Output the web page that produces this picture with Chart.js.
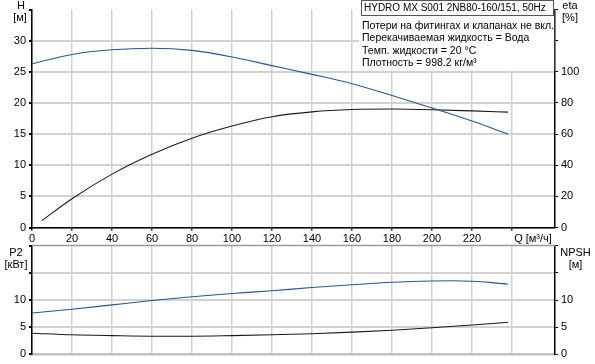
<!DOCTYPE html>
<html>
<head>
<meta charset="utf-8">
<script src="https://cdn.jsdelivr.net/npm/chart.js@4.4.1/dist/chart.umd.min.js"></script>
<style>
  body { margin: 0; background: #fff; }
  #wrap { position: relative; width: 595px; height: 364px; overflow: hidden; }
  canvas { position: absolute; left: 0; }
  #top { top: 0; }
  #bottom { top: 236px; }
</style>
</head>
<body>
<div id="wrap">
  <canvas id="top" width="595" height="246"></canvas>
  <canvas id="bottom" width="595" height="128"></canvas>
</div>
<script>
// curve data
const qH = [0, 20, 40, 60, 80, 100, 120, 140, 160, 180, 200, 220, 238];
const headH = [26.3, 27.8, 28.55, 28.8, 28.45, 27.4, 26.0, 24.6, 23.1, 21.2, 19.2, 17.1, 15.0];
const qEta = [5, 20, 40, 60, 80, 100, 120, 140, 160, 180, 200, 220, 238];
const etaVals = [4.5, 18.5, 34.3, 47.1, 57.4, 65.2, 71.2, 74.3, 75.8, 76.1, 75.7, 74.9, 74.1];
const qP2 = [0, 20, 40, 60, 80, 100, 120, 140, 160, 180, 200, 210, 220, 230, 238];
const p2Vals = [7.6, 8.3, 9.1, 9.9, 10.6, 11.2, 11.7, 12.3, 12.8, 13.25, 13.5, 13.55, 13.45, 13.2, 12.9];
const qNpsh = [0, 20, 40, 60, 80, 100, 120, 140, 160, 180, 200, 220, 238];
const npshVals = [3.9, 3.6, 3.45, 3.35, 3.35, 3.45, 3.6, 3.8, 4.1, 4.45, 4.9, 5.4, 5.9];

// tick labels
const qTickLabels = [0, 20, 40, 60, 80, 100, 120, 140, 160, 180, 200, 220];
const hTickLabels = [0, 5, 10, 15, 20, 25, 30];
const etaTickLabels = [0, 20, 40, 60, 80, 100];
const p2TickLabels = [0, 5, 10];
const npshTickLabels = [0, 5, 10];

const title = 'HYDRO MX S001 2NB80-160/151, 50Hz';
const infoLines = [
    'Потери на фитингах и клапанах не вкл.',
    'Перекачиваемая жидкость = Вода',
    'Темп. жидкости = 20 °C',
    'Плотность = 998.2 кг/м³'
];

Chart.defaults.font.family = '"Liberation Sans", Arial, sans-serif';
Chart.defaults.font.size = 11;
Chart.defaults.color = '#000';

const blue = '#2a5590';
const dark = '#1a1a1a';
const gridCol = '#d2d2d2';

function pts(xs, ys) {
    return xs.map((x, i) => ({ x: x, y: ys[i] }));
}

function onlyTwenty(scale) {
    scale.ticks = scale.ticks.filter(t => t.value % 20 === 0 && t.value <= 240);
}

function lineSet(data, color, axis) {
    return {
        data: data,
        borderColor: color,
        borderWidth: 1.1,
        pointRadius: 0,
        fill: false,
        cubicInterpolationMode: 'monotone',
        yAxisID: axis
    };
}

function label(ctx, text, x, y, align) {
    ctx.textAlign = align || 'center';
    ctx.fillText(text, x, y);
}

const topPlugin = {
    id: 'topText',
    beforeDatasetsDraw(chart) {
        const ctx = chart.ctx;
        const yScale = chart.scales.y;
        ctx.save();
        ctx.fillStyle = '#fff';
        ctx.fillRect(359, 0, chart.chartArea.right - 359.8, yScale.getPixelForValue(25) - 1.5);
        ctx.restore();
    },
    afterDraw(chart) {
        const ctx = chart.ctx;
        ctx.save();
        ctx.fillStyle = '#000';
        ctx.textBaseline = 'middle';
        ctx.font = '11px "Liberation Sans", Arial, sans-serif';
        label(ctx, 'H', 21, 6);
        label(ctx, '[м]', 20, 18);
        label(ctx, 'eta', 570, 6);
        label(ctx, '[%]', 570, 18);
        label(ctx, 'Q [м³/ч]', 533, 238.5);

        ctx.strokeStyle = '#555';
        ctx.lineWidth = 1;
        ctx.strokeRect(361.5, 0.5, 192, 15);
        ctx.font = '10px "Liberation Sans", Arial, sans-serif';
        label(ctx, title, 364, 8.5, 'left');
        ctx.font = '10.5px "Liberation Sans", Arial, sans-serif';
        infoLines.forEach((t, i) => label(ctx, t, 362, 26 + i * 12.5, 'left'));
        ctx.restore();
    }
};

const bottomPlugin = {
    id: 'bottomText',
    afterDraw(chart) {
        const ctx = chart.ctx;
        const a = chart.chartArea;
        ctx.save();
        ctx.strokeStyle = '#999';
        ctx.lineWidth = 1.5;
        ctx.beginPath();
        ctx.moveTo(a.left, a.top);
        ctx.lineTo(a.right, a.top);
        ctx.stroke();
        ctx.fillStyle = '#000';
        ctx.textBaseline = 'middle';
        ctx.font = '11px "Liberation Sans", Arial, sans-serif';
        label(ctx, 'P2', 16, 16.5);
        label(ctx, '[кВт]', 16, 28.5);
        label(ctx, 'NPSH', 575.5, 16.5);
        label(ctx, '[м]', 575.5, 28.5);
        ctx.restore();
    }
};

new Chart(document.getElementById('top'), {
    type: 'line',
    data: {
        datasets: [
            lineSet(pts(qH, headH), blue, 'y'),
            lineSet(pts(qEta, etaVals), dark, 'y2')
        ]
    },
    options: {
        responsive: false,
        animation: false,
        devicePixelRatio: 1,
        layout: { padding: 0 },
        plugins: { legend: { display: false }, tooltip: { enabled: false } },
        scales: {
            x: {
                type: 'linear',
                min: 0,
                max: 261.5,
                ticks: {
                    stepSize: 20,
                    padding: 2,
                    maxRotation: 0,
                    autoSkip: false,
                    callback: v => qTickLabels.includes(v) ? v : ''
                },
                afterBuildTicks: onlyTwenty,
                afterFit: s => { s.height = 18.5; },
                grid: { color: gridCol, lineWidth: 1.5, tickColor: '#000', tickLength: 3 },
                border: { color: '#000', width: 1.5 }
            },
            y: {
                position: 'left',
                min: 0,
                max: 35,
                ticks: {
                    stepSize: 5,
                    padding: 3,
                    callback: v => hTickLabels.includes(v) ? v : ''
                },
                afterFit: s => { s.width = 32; },
                grid: {
                    color: c => c.tick && c.tick.value === 35 ? 'rgba(0,0,0,0)' : gridCol,
                    lineWidth: 2,
                    tickColor: '#000',
                    tickLength: 3
                },
                border: { color: '#000', width: 1.5 }
            },
            y2: {
                position: 'right',
                min: 0,
                max: 140,
                ticks: {
                    stepSize: 20,
                    padding: 3,
                    callback: v => etaTickLabels.includes(v) ? v : ''
                },
                afterFit: s => { s.width = 40; },
                grid: { drawOnChartArea: false, tickColor: '#000', tickLength: 3 },
                border: { color: '#000', width: 1.5 }
            }
        }
    },
    plugins: [topPlugin]
});

new Chart(document.getElementById('bottom'), {
    type: 'line',
    data: {
        datasets: [
            lineSet(pts(qP2, p2Vals), blue, 'y'),
            lineSet(pts(qNpsh, npshVals), dark, 'y2')
        ]
    },
    options: {
        responsive: false,
        animation: false,
        devicePixelRatio: 1,
        layout: { padding: { top: 9.5 } },
        plugins: { legend: { display: false }, tooltip: { enabled: false } },
        scales: {
            x: {
                type: 'linear',
                min: 0,
                max: 261.5,
                ticks: { display: false, stepSize: 20 },
                afterBuildTicks: onlyTwenty,
                afterFit: s => { s.height = 8; },
                grid: { color: gridCol, lineWidth: 1.5, drawTicks: false },
                border: { color: '#c0c0c0', width: 2.5 }
            },
            y: {
                position: 'left',
                min: 0,
                max: 20,
                ticks: {
                    stepSize: 5,
                    padding: 3,
                    callback: v => p2TickLabels.includes(v) ? v : ''
                },
                afterFit: s => { s.width = 32; },
                grid: {
                    color: c => c.tick && c.tick.value === 20 ? 'rgba(0,0,0,0)' : gridCol,
                    lineWidth: 2,
                    tickColor: '#000',
                    tickLength: 3
                },
                border: { color: '#000', width: 1.5 }
            },
            y2: {
                position: 'right',
                min: 0,
                max: 20,
                ticks: {
                    stepSize: 5,
                    padding: 3,
                    callback: v => npshTickLabels.includes(v) ? v : ''
                },
                afterFit: s => { s.width = 40; },
                grid: { drawOnChartArea: false, tickColor: '#000', tickLength: 3 },
                border: { color: '#000', width: 1.5 }
            }
        }
    },
    plugins: [bottomPlugin]
});
</script>
</body>
</html>
